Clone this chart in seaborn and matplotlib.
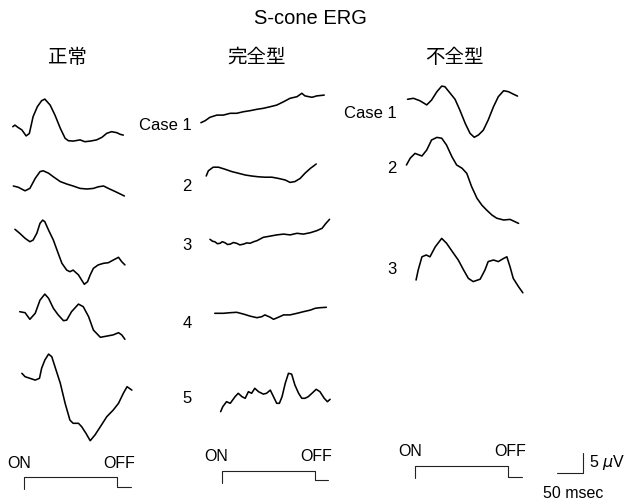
import matplotlib
matplotlib.use("Agg")
import matplotlib.pyplot as plt
import seaborn as sns

# ---------------------------------------------------------------
# S-cone ERG waveforms: time (msec from stimulus onset), amplitude (uV)
# ---------------------------------------------------------------
# 正常 (normal controls)
normal1_t = [-21, -17, -11, -4, 4, 10, 17, 25, 33, 39, 49, 58, 68, 77, 83, 92,
             105, 114, 124, 136, 146, 155, 164, 174, 180, 186]
normal1_uv = [0, 0.4, -0.2, -0.8, -2.3, -1.7, 2.5, 5.0, 6.5, 6.9, 5.4, 2.9, -0.4,
              -2.9, -3.5, -3.6, -3.3, -3.75, -3.6, -3.3, -2.65, -1.65, -1.25, -1.5,
              -1.9, -2.1]

normal2_t = [-20, -11, 2, 11, 21, 30, 36, 46, 55, 68, 80, 92, 105, 118, 130, 139,
             149, 158, 171, 188]
normal2_uv = [0, -0.3, -1.2, -0.6, 1.9, 3.6, 3.8, 3.2, 2.3, 1.1, 0.5, 0, -0.6,
              -0.75, -0.6, -0.2, 0, -0.6, -1.4, -2.5]

normal3_t = [-17, -8, 2, 11, 17, 24, 30, 35, 39, 46, 55, 64, 71, 80, 86, 92, 102,
             108, 113, 119, 124, 130, 139, 149, 158, 167, 177, 183, 189]
normal3_uv = [0, -1.0, -2.25, -3.1, -2.7, -1.0, 1.5, 2.3, 1.9, -0.2, -2.7, -6.0,
              -8.5, -10.2, -10.6, -10.2, -11.4, -12.7, -13.75, -13.1, -11.4, -9.75,
              -8.9, -8.5, -8.35, -7.7, -7.0, -8.1, -8.9]

normal4_t = [-8, 2, 11, 21, 30, 39, 46, 55, 64, 74, 80, 89, 102, 111, 121, 130,
             143, 155, 167, 177, 183, 189]
normal4_uv = [0, -0.25, -1.9, -0.4, 2.9, 4.4, 3.35, 0.85, -0.8, -2.25, -2.1, 0,
              1.9, 1.25, -1.25, -4.6, -6.4, -6.1, -5.8, -5.25, -5.8, -6.9]

normal5_t = [-4, 2, 11, 21, 29, 33, 39, 46, 52, 58, 68, 77, 86, 92, 102, 108, 116,
             124, 133, 143, 155, 167, 177, 186, 193, 202]
normal5_uv = [0, -0.85, -1.25, -1.7, -1.25, 1.25, 3.3, 4.8, 4.15, 1.65, -2.5, -7.5,
              -11.7, -12.5, -12.5, -13.35, -15.0, -16.85, -15.4, -13.35, -10.85,
              -9.2, -7.5, -5.0, -3.35, -4.2]

# 完全型 (complete type), cases 1-5
complete1_t = [-39, -31, -22, -9, 3, 16, 28, 41, 53, 66, 78, 91, 103, 116, 128,
               141, 150, 156, 169, 178, 192]
complete1_uv = [0, 0.5, 1.35, 1.9, 1.9, 2.35, 2.35, 2.75, 3.0, 3.35, 3.6, 4.0, 4.4,
                5.25, 6.1, 6.5, 7.35, 6.7, 6.35, 6.7, 6.9]

complete2_t = [-29, -25, -16, -6, 6, 19, 31, 44, 56, 69, 81, 94, 106, 119, 128,
               137, 147, 156, 166, 177]
complete2_uv = [0, 1.3, 2.2, 2.2, 1.7, 1.1, 0.7, 0.25, 0, -0.2, -0.3, -0.3, -0.6,
                -1.0, -1.6, -1.4, -0.6, 0.7, 1.9, 3.0]

complete3_t = [-22, -17, -13, -8, -3, 1, 6, 11, 16, 22, 28, 34, 41, 47, 53, 60, 66,
               78, 91, 103, 116, 128, 141, 153, 166, 178, 188, 194, 202]
complete3_uv = [0, -0.5, -0.6, -1.1, -1.0, -0.6, -0.85, -1.3, -1.2, -0.8, -1.0,
                -1.4, -1.2, -0.9, -1.0, -0.6, -0.35, 0.5, 0.8, 1.1, 1.3, 1.1, 1.5,
                1.3, 1.65, 2.15, 2.75, 3.8, 5.0]

complete4_t = [-13, 3, 16, 28, 41, 53, 66, 75, 81, 91, 97, 106, 116, 128, 141, 153,
               166, 175, 184, 196]
complete4_uv = [0, 0, 0.15, 0.25, -0.2, -0.7, -1.1, -0.85, -0.4, -1.0, -1.5, -1.0,
                -0.4, -0.4, 0, 0.4, 0.8, 1.25, 1.4, 1.5]

complete5_t = [-2, 2, 9, 16, 25, 31, 38, 44, 50, 56, 62, 69, 78, 84, 91, 97, 103,
               108, 113, 119, 125, 131, 137, 144, 150, 156, 162, 169, 177, 184, 192,
               198, 203]
complete5_uv = [0, 1.25, 2.5, 2.1, 3.75, 4.6, 3.75, 3.35, 5.0, 4.6, 5.85, 5.0, 4.4,
                4.6, 5.4, 3.75, 2.1, 2.1, 3.75, 7.1, 9.6, 9.4, 6.7, 4.6, 3.35, 3.35,
                3.75, 4.6, 5.6, 5.0, 3.35, 2.5, 3.1]

# 不全型 (incomplete type), cases 1-3
incomplete1_t = [-14, -3, 9, 22, 31, 41, 50, 56, 66, 75, 84, 94, 103, 111, 119,
                 128, 137, 147, 156, 166, 175, 184, 192]
incomplete1_uv = [0, 0.25, -0.35, -1.4, -0.2, 1.9, 3.3, 3.15, 1.5, 0, -2.7, -6.0,
                  -8.5, -9.5, -8.9, -7.7, -5.2, -1.85, 0.65, 2.15, 1.9, 1.3, 0.8]

incomplete2_t = [-16, -9, 0, 13, 22, 31, 41, 50, 59, 69, 78, 88, 97, 106, 116, 125,
                 134, 144, 153, 166, 178, 194]
incomplete2_uv = [0, 1.7, 2.9, 2.25, 3.75, 6.25, 6.9, 6.7, 5.0, 2.1, 0, -0.8, -2.1,
                  -5.4, -8.3, -10.0, -11.25, -12.5, -13.3, -13.75, -13.6, -14.6]

incomplete3_t = [2, 6, 13, 21, 28, 38, 50, 59, 72, 81, 91, 100, 109, 122, 131, 137,
                 147, 156, 166, 172, 178, 184, 194, 202]
incomplete3_uv = [0, 2.5, 5.8, 6.25, 5.8, 8.3, 10.4, 9.2, 6.7, 5.0, 2.5, 0.4, -0.4,
                  0.2, 2.5, 4.6, 5.0, 4.6, 5.4, 5.8, 3.3, 0.4, -1.7, -3.2]

# stimulus timing (msec) and scale bar
STIM_ON_MS = 0
STIM_OFF_MS = 175
STIM_END_MS = 200
SCALE_MS = 50
SCALE_UV = 5

group_names = ["正常", "完全型", "不全型"]
case_labels_complete = ["Case 1", "2", "3", "4", "5"]
case_labels_incomplete = ["Case 1", "2", "3"]

# ---------------------------------------------------------------
# Page layout: one axis spanning the figure, scaled in msec / uV
# ---------------------------------------------------------------
W, H = 630, 499
PX_PER_MS = 26.7 / SCALE_MS
PX_PER_UV = 20.0 / SCALE_UV


def at(px, py):
    """Figure pixel position -> (msec, uV) coordinates of the page axis."""
    return px / PX_PER_MS, -py / PX_PER_UV


sns.set_theme(style="white")
plt.rcParams["font.family"] = ["Liberation Sans", "Noto Sans CJK JP", "DejaVu Sans"]
plt.rcParams["mathtext.fontset"] = "dejavusans"
plt.rcParams["text.color"] = "black"
plt.rcParams["lines.solid_joinstyle"] = "round"

fig = plt.figure(figsize=(W / 100, H / 100), dpi=100)
ax = fig.add_axes([0, 0, 1, 1])
ax.set_xlim(0, W / PX_PER_MS)
ax.set_ylim(-H / PX_PER_UV, 0)
ax.axis("off")

# column onset (x pixel of stimulus ON) and each trace's start level (y pixel)
columns = [
    (24.0, [(normal1_t, normal1_uv, 126.7), (normal2_t, normal2_uv, 186.0),
            (normal3_t, normal3_uv, 229.3), (normal4_t, normal4_uv, 311.7),
            (normal5_t, normal5_uv, 373.3)]),
    (221.7, [(complete1_t, complete1_uv, 122.7), (complete2_t, complete2_uv, 176.0),
             (complete3_t, complete3_uv, 239.3), (complete4_t, complete4_uv, 313.3),
             (complete5_t, complete5_uv, 411.7)]),
    (415.0, [(incomplete1_t, incomplete1_uv, 99.3), (incomplete2_t, incomplete2_uv, 165.0),
             (incomplete3_t, incomplete3_uv, 280.0)]),
]

for onset_px, traces in columns:
    x0, _ = at(onset_px, 0)
    for t, uv, base_px in traces:
        _, y0 = at(0, base_px)
        sns.lineplot(x=[x0 + v for v in t], y=[y0 + v for v in uv], ax=ax,
                     color="black", linewidth=1.15, sort=False, estimator=None)

# stimulus markers: (onset px, top px, left-foot px, right-foot px)
stim_rows = [(24.0, 477.3, 489.0, 487.3), (221.7, 470.5, 483.0, 480.0),
             (415.0, 465.7, 478.3, 476.7)]
for onset_px, top_px, lfoot_px, rfoot_px in stim_rows:
    x0, _ = at(onset_px, 0)
    _, ytop = at(0, top_px)
    _, yl = at(0, lfoot_px)
    _, yr = at(0, rfoot_px)
    xs = [x0 + STIM_ON_MS, x0 + STIM_ON_MS, x0 + STIM_OFF_MS, x0 + STIM_OFF_MS,
          x0 + STIM_END_MS]
    ys = [yl, ytop, ytop, yr, yr]
    sns.lineplot(x=xs, y=ys, ax=ax, color="#222222", linewidth=0.8,
                 sort=False, estimator=None)
    ax.text(*at(onset_px - 17, top_px - 14), "ON", fontsize=11.5,
            ha="left", va="center")
    ax.text(*at(onset_px + 79, top_px - 14), "OFF", fontsize=11.5,
            ha="left", va="center")

# calibration bar
cx, cy = at(583.3, 473.3)
sns.lineplot(x=[cx - SCALE_MS, cx, cx], y=[cy, cy, cy + SCALE_UV], ax=ax,
             color="#222222", linewidth=0.8, sort=False, estimator=None)
ax.text(*at(589, 462), r"5 $\mu$V", fontsize=11.5, ha="left", va="center")
ax.text(*at(543, 493), "50 msec", fontsize=11.5, ha="left", va="center")

# titles
ax.text(*at(310, 18), "S-cone ERG", fontsize=14.5, ha="center", va="center")
for name, cx_px in zip(group_names, [68, 257, 454]):
    ax.text(*at(cx_px, 57), name, fontsize=14, ha="center", va="center",
            family=["Noto Sans CJK JP", "DejaVu Sans"])

# case numbers
for lab, y_px in zip(case_labels_complete, [125, 186.7, 245, 324, 398.3]):
    ax.text(*at(192, y_px), lab, fontsize=12, ha="right", va="center")
for lab, y_px in zip(case_labels_incomplete, [113.3, 168.3, 270]):
    ax.text(*at(396.5, y_px), lab, fontsize=12, ha="right", va="center")

fig.savefig("out.png", dpi=100)
